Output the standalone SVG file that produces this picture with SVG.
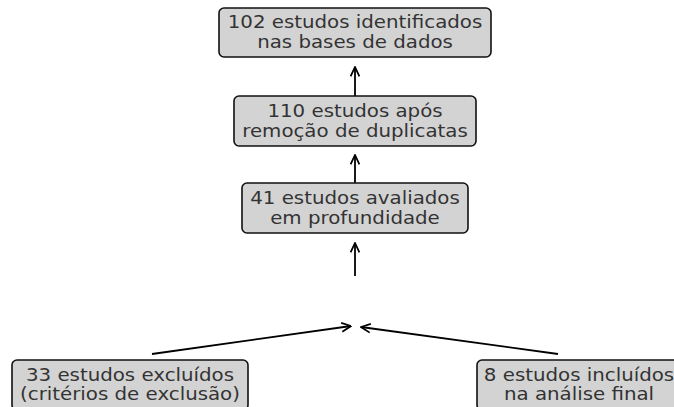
<svg xmlns="http://www.w3.org/2000/svg" width="674" height="407" viewBox="0 0 674 407">
<defs>
<style>
.box{fill:#d3d3d3;stroke:#111;stroke-width:1.6}
.t{font-family:"DejaVu Sans",sans-serif;font-size:18px;fill:#333;text-anchor:middle}
.c{stroke:#000;stroke-width:1.8;fill:none;marker-end:url(#ah)}
</style>
<marker id="ah" viewBox="0 0 10 10" refX="9.5" refY="5" markerWidth="11" markerHeight="11" markerUnits="userSpaceOnUse" orient="auto">
<path d="M1,1 L9.5,5 L1,9" fill="none" stroke="#000" stroke-width="1.6"/>
</marker>
</defs>
<g id="connectors">
<line class="c" x1="355" y1="96" x2="355" y2="67"/>
<line class="c" x1="355" y1="183" x2="355" y2="155"/>
<line class="c" x1="355" y1="276" x2="355" y2="243"/>
<line class="c" x1="152" y1="354" x2="351" y2="326"/>
<line class="c" x1="558" y1="354" x2="361" y2="327"/>
</g>
<g id="n1">
<rect class="box" x="219" y="8" width="272" height="49" rx="5"/>
<text class="t" transform="translate(355,28) scale(1.1,1)">102 estudos identificados</text>
<text class="t" transform="translate(355,48) scale(1.1,1)">nas bases de dados</text>
</g>
<g id="n2">
<rect class="box" x="234" y="96" width="242" height="50" rx="5"/>
<text class="t" transform="translate(355,117) scale(1.1,1)">110 estudos após</text>
<text class="t" transform="translate(355,137) scale(1.1,1)">remoção de duplicatas</text>
</g>
<g id="n3">
<rect class="box" x="242" y="183" width="226" height="50" rx="5"/>
<text class="t" transform="translate(355,203.5) scale(1.1,1)">41 estudos avaliados</text>
<text class="t" transform="translate(355,223.5) scale(1.1,1)">em profundidade</text>
</g>
<g id="n4">
<rect class="box" x="12" y="360" width="236" height="50" rx="5"/>
<text class="t" transform="translate(130,380.5) scale(1.1,1)">33 estudos excluídos</text>
<text class="t" transform="translate(130,400) scale(1.1,1)">(critérios de exclusão)</text>
</g>
<g id="n5">
<rect class="box" x="477" y="360" width="202" height="50" rx="5"/>
<text class="t" transform="translate(579,380.5) scale(1.1,1)">8 estudos incluídos</text>
<text class="t" transform="translate(579,400) scale(1.1,1)">na análise final</text>
</g>
</svg>
